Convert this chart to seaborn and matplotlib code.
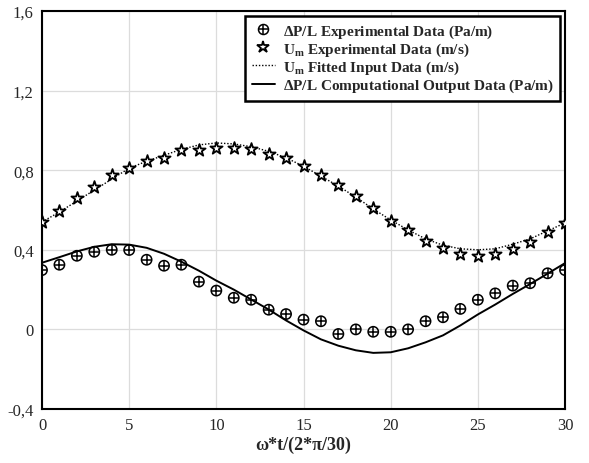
import numpy as np
import pandas as pd
import matplotlib
matplotlib.use("Agg")
import matplotlib.pyplot as plt
import seaborn as sns
from matplotlib.legend_handler import HandlerTuple
from matplotlib.lines import Line2D

# ---- data ----
x_pts = list(range(0, 31))
dp_exp = [0.298, 0.325, 0.370, 0.390, 0.400, 0.399, 0.350, 0.320, 0.325, 0.240,
          0.195, 0.159, 0.149, 0.099, 0.077, 0.049, 0.041, -0.023, 0.000, -0.012,
          -0.012, 0.000, 0.041, 0.061, 0.103, 0.149, 0.181, 0.220, 0.232, 0.282, 0.298]
um_exp = [0.538, 0.597, 0.662, 0.714, 0.777, 0.813, 0.845, 0.863, 0.901, 0.900,
          0.912, 0.912, 0.908, 0.881, 0.861, 0.823, 0.777, 0.727, 0.672, 0.609,
          0.545, 0.501, 0.446, 0.407, 0.377, 0.370, 0.377, 0.404, 0.441, 0.488, 0.535]
um_fit = [0.540, 0.590, 0.645, 0.700, 0.755, 0.810, 0.845, 0.875, 0.905, 0.927,
          0.937, 0.932, 0.918, 0.895, 0.862, 0.820, 0.770, 0.720, 0.665, 0.605,
          0.550, 0.500, 0.455, 0.423, 0.405, 0.400, 0.405, 0.428, 0.455, 0.495, 0.535]
dp_comp = [0.335, 0.363, 0.392, 0.415, 0.428, 0.426, 0.410, 0.380, 0.340, 0.295,
           0.245, 0.200, 0.150, 0.100, 0.045, -0.005, -0.050, -0.082, -0.105, -0.118,
           -0.115, -0.095, -0.065, -0.030, 0.020, 0.075, 0.125, 0.178, 0.228, 0.280, 0.333]

x_ticks = [0, 5, 10, 15, 20, 25, 30]
y_ticks = [-0.4, 0.0, 0.4, 0.8, 1.2, 1.6]
y_tick_labels = ["-0,4", "0", "0,4", "0,8", "1,2", "1,6"]

labels = [r"$\mathbf{\Delta}$P/L Experimental Data (Pa/m)",
          r"U$_{\mathbf{m}}$ Experimental Data (m/s)",
          r"U$_{\mathbf{m}}$ Fitted Input Data (m/s)",
          r"$\mathbf{\Delta}$P/L Computational Output Data (Pa/m)"]

df = pd.DataFrame({"x": x_pts, "dp_exp": dp_exp, "um_exp": um_exp,
                   "um_fit": um_fit, "dp_comp": dp_comp})

sns.set_style("white")
plt.rcParams["font.family"] = ["Liberation Serif", "DejaVu Serif"]
plt.rcParams["mathtext.fontset"] = "custom"
plt.rcParams["mathtext.rm"] = "Liberation Serif:bold"
plt.rcParams["mathtext.bf"] = "Liberation Serif:bold"
plt.rcParams["mathtext.it"] = "Liberation Serif:bold"

fig = plt.figure(figsize=(5.89, 4.64), dpi=100)
ax = fig.add_axes([42/589, 1-410/464, (565-42)/589, (410-12)/464])

ax.grid(True, color="#dcdcdc", linewidth=0.9)
ax.set_axisbelow(True)

sns.lineplot(data=df, x="x", y="um_fit", ax=ax, color="black",
             linestyle=(0, (1, 1.3)), linewidth=1.0)
sns.lineplot(data=df, x="x", y="dp_comp", ax=ax, color="black",
             linestyle="-", linewidth=1.4)

sns.scatterplot(data=df, x="x", y="dp_exp", ax=ax, marker="o", s=55,
                facecolor="none", edgecolor="black", linewidth=1.1, zorder=5)
sns.scatterplot(data=df, x="x", y="dp_exp", ax=ax, marker="+", s=55,
                color="black", linewidth=1.1, zorder=6)
sns.scatterplot(data=df, x="x", y="um_exp", ax=ax, marker="*", s=85,
                facecolor="white", edgecolor="black", linewidth=1.3, zorder=5)

ax.set_xlim(0, 30)
ax.set_ylim(-0.4, 1.6)
ax.set_xticks(x_ticks)
ax.set_xticklabels([str(t) for t in x_ticks])
ax.set_yticks(y_ticks)
ax.set_yticklabels(y_tick_labels)
ax.tick_params(length=0, labelsize=12, pad=6)
ax.set_xlabel("ω*t/(2*π/30)", fontsize=13, fontweight="bold", labelpad=2)
ax.set_ylabel("")
for s in ax.spines.values():
    s.set_visible(True)
    s.set_color("black")
    s.set_linewidth(1.5)

h_circ = Line2D([], [], marker="o", markersize=7.2, markerfacecolor="none",
                markeredgecolor="black", markeredgewidth=1.1, linestyle="none")
h_plus = Line2D([], [], marker="+", markersize=7.2, color="black",
                markeredgewidth=1.1, linestyle="none")
h_star = Line2D([], [], marker="*", markersize=9, markerfacecolor="white",
                markeredgecolor="black", markeredgewidth=1.3, linestyle="none")
h_fit = Line2D([], [], color="black", linestyle=(0, (1, 1.3)), linewidth=1.0)
h_comp = Line2D([], [], color="black", linestyle="-", linewidth=1.4)

leg = ax.legend([(h_circ, h_plus), h_star, h_fit, h_comp], labels,
                handler_map={tuple: HandlerTuple(ndivide=1)},
                loc="upper right", fontsize=11, frameon=True, fancybox=False,
                edgecolor="black", framealpha=1, labelspacing=0.05,
                handlelength=1.5, handletextpad=0.5, borderpad=0.45,
                borderaxespad=0.3)
leg.get_frame().set_linewidth(1.8)
for t in leg.get_texts():
    t.set_fontweight("bold")

fig.savefig("out.png", dpi=100)
